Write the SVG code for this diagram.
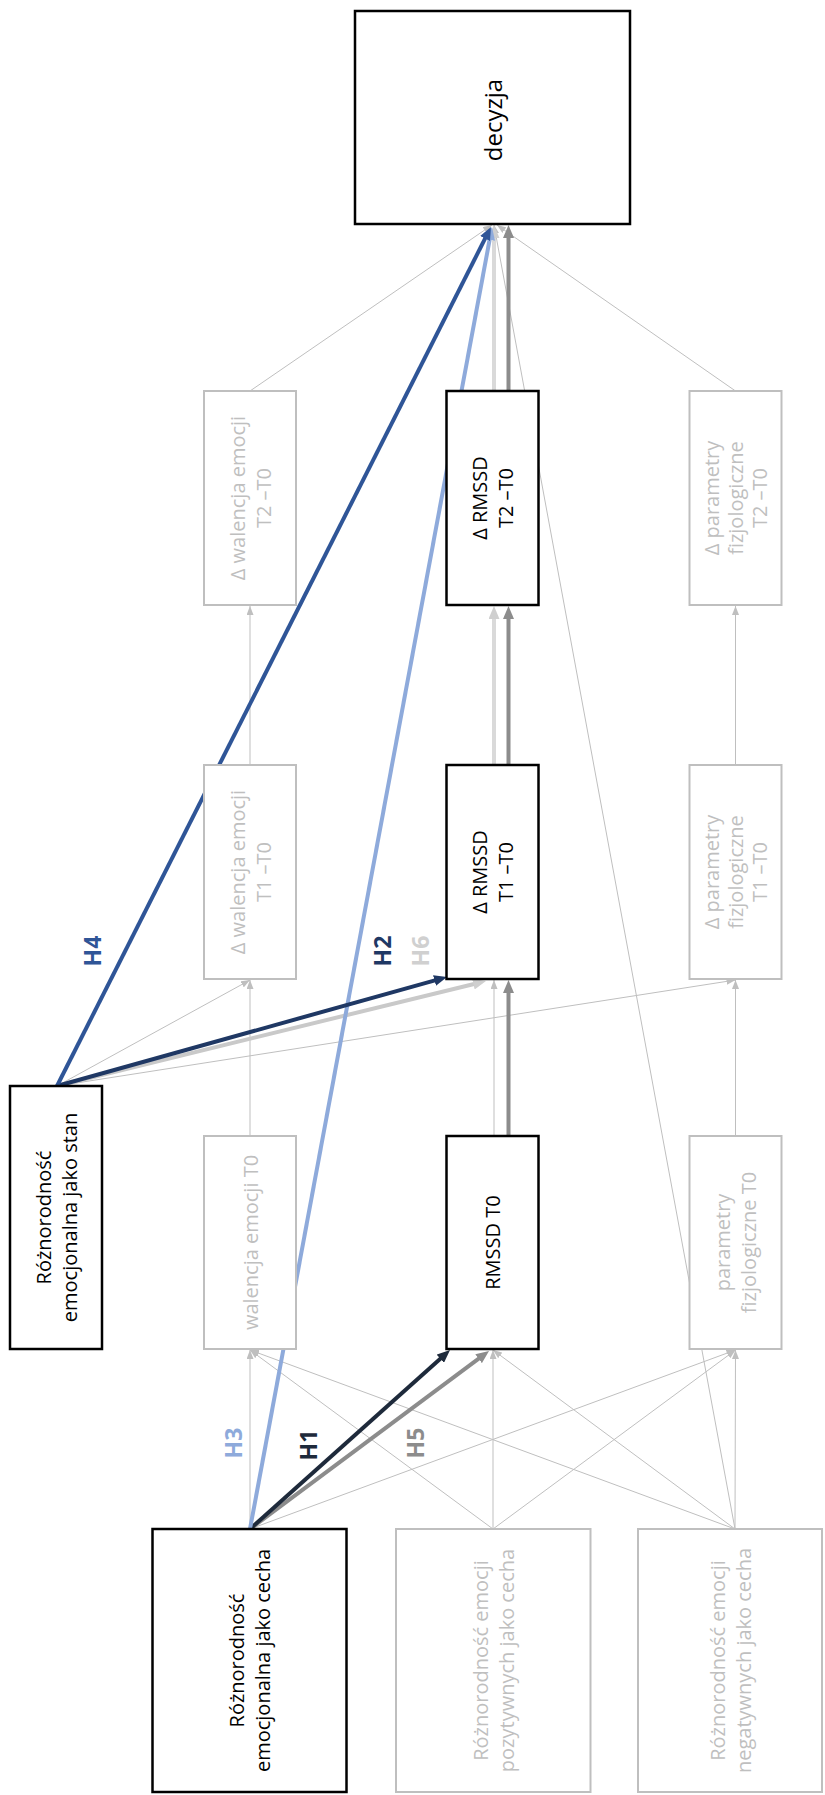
<svg xmlns="http://www.w3.org/2000/svg" width="825" height="1795" viewBox="0 0 825 1795">
<style>
.bon{fill:#fff;stroke:#000;stroke-width:2.5}
.boff{fill:#fff;stroke:#bfbfbf;stroke-width:2}
.t{font-family:"Open Sans","Noto Sans","DejaVu Sans",sans-serif;font-size:20px;text-anchor:middle;dominant-baseline:central}
.big{font-size:24px}
.on{fill:#000}
.off{fill:#bfbfbf}
.lbl{font-family:"Open Sans","Noto Sans","DejaVu Sans",sans-serif;font-size:23px;font-weight:bold;text-anchor:middle;dominant-baseline:central}
.thin{stroke:#bfbfbf;stroke-width:1;fill:none;marker-end:url(#aThin)}
.thick{fill:none;stroke-width:4}
</style>
<defs>
<marker id="aThin" markerUnits="userSpaceOnUse" markerWidth="9" markerHeight="7" refX="9" refY="3.5" orient="auto"><path d="M0,0 L9,3.5 L0,7 z" fill="#bfbfbf"/></marker>
<marker id="aNavy" markerUnits="userSpaceOnUse" markerWidth="13" markerHeight="11" refX="6" refY="5.5" orient="auto"><path d="M0,0 L13,5.5 L0,11 z" fill="#1e2a3b"/></marker>
<marker id="aGray" markerUnits="userSpaceOnUse" markerWidth="13" markerHeight="11" refX="6" refY="5.5" orient="auto"><path d="M0,0 L13,5.5 L0,11 z" fill="#8c8c8c"/></marker>
<marker id="aLBlue" markerUnits="userSpaceOnUse" markerWidth="13" markerHeight="11" refX="6" refY="5.5" orient="auto"><path d="M0,0 L13,5.5 L0,11 z" fill="#8eaadb"/></marker>
<marker id="aBlue" markerUnits="userSpaceOnUse" markerWidth="13" markerHeight="11" refX="6" refY="5.5" orient="auto"><path d="M0,0 L13,5.5 L0,11 z" fill="#2f5597"/></marker>
<marker id="aNavy2" markerUnits="userSpaceOnUse" markerWidth="13" markerHeight="11" refX="6" refY="5.5" orient="auto"><path d="M0,0 L13,5.5 L0,11 z" fill="#1f3864"/></marker>
<marker id="aLGray" markerUnits="userSpaceOnUse" markerWidth="13" markerHeight="11" refX="6" refY="5.5" orient="auto"><path d="M0,0 L13,5.5 L0,11 z" fill="#cfcfcf"/></marker>
</defs>
<rect width="825" height="1795" fill="#fff"/>

<g id="connectors">
<line class="thin" x1="250" y1="1529" x2="250" y2="1350"/>
<line class="thin" x1="250" y1="1529" x2="735.5" y2="1350"/>
<line class="thin" x1="493" y1="1529" x2="250" y2="1350"/>
<line class="thin" x1="493" y1="1529" x2="493" y2="1350"/>
<line class="thin" x1="493" y1="1529" x2="735.5" y2="1350"/>
<line class="thin" x1="735" y1="1529" x2="250" y2="1350"/>
<line class="thin" x1="735" y1="1529" x2="493" y2="1350"/>
<line class="thin" x1="735" y1="1529" x2="735.5" y2="1350"/>
<line class="thin" x1="735" y1="1529" x2="494" y2="225"/>
<line class="thin" x1="57" y1="1086" x2="250" y2="980"/>
<line class="thin" x1="57" y1="1086" x2="735.5" y2="980"/>
<line class="thin" x1="250" y1="1136" x2="250" y2="980"/>
<line class="thin" x1="250" y1="765" x2="250" y2="606"/>
<line class="thin" x1="735.5" y1="1136" x2="735.5" y2="980"/>
<line class="thin" x1="735.5" y1="765" x2="735.5" y2="606"/>
<line class="thin" x1="494" y1="1136" x2="494" y2="980"/>
<line class="thin" x1="250" y1="391" x2="492" y2="225"/>
<line class="thin" x1="735.5" y1="391" x2="497" y2="225"/>
<line class="thick" stroke="#d9d9d9" x1="494" y1="765" x2="494" y2="613" marker-end="url(#aLGray)"/>
<line class="thick" stroke="#d9d9d9" x1="494" y1="391" x2="494" y2="232" marker-end="url(#aLGray)"/>
<line class="thick" stroke="#8c8c8c" x1="508.5" y1="1136" x2="508.5" y2="987" marker-end="url(#aGray)"/>
<line class="thick" stroke="#8c8c8c" x1="508.5" y1="765" x2="508.5" y2="613" marker-end="url(#aGray)"/>
<line class="thick" stroke="#8c8c8c" x1="508.5" y1="391" x2="508.5" y2="232" marker-end="url(#aGray)"/>
<line class="thick" stroke="#c9c9c9" x1="57" y1="1086" x2="479.2" y2="982.7" marker-end="url(#aLGray)"/>
<line class="thick" stroke="#8c8c8c" x1="250" y1="1529" x2="483.4" y2="1355.2" marker-end="url(#aGray)"/>
<line class="thick" stroke="#1e2a3b" x1="250" y1="1529" x2="444.8" y2="1354.7" marker-end="url(#aNavy)"/>
<line class="thick" stroke="#8eaadb" stroke-width="3.5" x1="250" y1="1529" x2="490.7" y2="233.9" marker-end="url(#aLBlue)"/>
<line class="thick" stroke="#1f3864" x1="57" y1="1086" x2="440.3" y2="978.9" marker-end="url(#aNavy2)"/>
<line class="thick" stroke="#2f5597" x1="57" y1="1086" x2="487.8" y2="233.2" marker-end="url(#aBlue)"/>
</g>

<g id="labels">
<text class="lbl" fill="#8eaadb" transform="translate(233,1443) rotate(-90)">H3</text>
<text class="lbl" fill="#1e2a3b" transform="translate(308,1445) rotate(-90)">H1</text>
<text class="lbl" fill="#8c8c8c" transform="translate(415,1443) rotate(-90)">H5</text>
<text class="lbl" fill="#2f5597" transform="translate(92,951) rotate(-90)">H4</text>
<text class="lbl" fill="#1f3864" transform="translate(382,951) rotate(-90)">H2</text>
<text class="lbl" fill="#d0d0d0" transform="translate(420,951) rotate(-90)">H6</text>
</g>

<g id="decyzja">
<rect class="bon" x="355" y="11" width="275" height="213"/>
<text class="t big on" transform="translate(492,120) rotate(-90)">decyzja</text>
</g>

<g id="walencja-t2">
<rect class="boff" x="204" y="391" width="92" height="214"/>
<text class="t off" transform="translate(237,498) rotate(-90)">Δ walencja emocji</text>
<text class="t off" transform="translate(263,498) rotate(-90)">T2 –T0</text>
</g>
<g id="rmssd-t2">
<rect class="bon" x="446.5" y="391" width="92" height="214"/>
<text class="t on" transform="translate(479.5,498) rotate(-90)">Δ RMSSD</text>
<text class="t on" transform="translate(505.5,498) rotate(-90)">T2 –T0</text>
</g>
<g id="param-t2">
<rect class="boff" x="689.5" y="391" width="92" height="214"/>
<text class="t off" transform="translate(711.5,498) rotate(-90)">Δ parametry</text>
<text class="t off" transform="translate(735.5,498) rotate(-90)">fizjologiczne</text>
<text class="t off" transform="translate(759.5,498) rotate(-90)">T2 –T0</text>
</g>

<g id="walencja-t1">
<rect class="boff" x="204" y="765" width="92" height="214"/>
<text class="t off" transform="translate(237,872) rotate(-90)">Δ walencja emocji</text>
<text class="t off" transform="translate(263,872) rotate(-90)">T1 –T0</text>
</g>
<g id="rmssd-t1">
<rect class="bon" x="446.5" y="765" width="92" height="214"/>
<text class="t on" transform="translate(479.5,872) rotate(-90)">Δ RMSSD</text>
<text class="t on" transform="translate(505.5,872) rotate(-90)">T1 –T0</text>
</g>
<g id="param-t1">
<rect class="boff" x="689.5" y="765" width="92" height="214"/>
<text class="t off" transform="translate(711.5,872) rotate(-90)">Δ parametry</text>
<text class="t off" transform="translate(735.5,872) rotate(-90)">fizjologiczne</text>
<text class="t off" transform="translate(759.5,872) rotate(-90)">T1 –T0</text>
</g>

<g id="stan">
<rect class="bon" x="10" y="1086" width="92" height="263"/>
<text class="t on" transform="translate(43,1217.5) rotate(-90)">Różnorodność</text>
<text class="t on" transform="translate(69,1217.5) rotate(-90)">emocjonalna jako stan</text>
</g>

<g id="walencja-t0">
<rect class="boff" x="204" y="1136" width="92" height="213"/>
<text class="t off" transform="translate(250,1242.5) rotate(-90)">walencja emocji T0</text>
</g>
<g id="rmssd-t0">
<rect class="bon" x="446.5" y="1136" width="92" height="213"/>
<text class="t on" transform="translate(492.5,1242.5) rotate(-90)">RMSSD T0</text>
</g>
<g id="param-t0">
<rect class="boff" x="689.5" y="1136" width="92" height="213"/>
<text class="t off" transform="translate(722.5,1242.5) rotate(-90)">parametry</text>
<text class="t off" transform="translate(748.5,1242.5) rotate(-90)">fizjologiczne T0</text>
</g>

<g id="cecha">
<rect class="bon" x="152.5" y="1529" width="194" height="263"/>
<text class="t on" transform="translate(236.5,1660.5) rotate(-90)">Różnorodność</text>
<text class="t on" transform="translate(262.5,1660.5) rotate(-90)">emocjonalna jako cecha</text>
</g>
<g id="pozytywne">
<rect class="boff" x="396" y="1529" width="194.5" height="263"/>
<text class="t off" transform="translate(480,1660.5) rotate(-90)">Różnorodność emocji</text>
<text class="t off" transform="translate(506,1660.5) rotate(-90)">pozytywnych jako cecha</text>
</g>
<g id="negatywne">
<rect class="boff" x="638" y="1529" width="184" height="263"/>
<text class="t off" transform="translate(717,1660.5) rotate(-90)">Różnorodność emocji</text>
<text class="t off" transform="translate(743,1660.5) rotate(-90)">negatywnych jako cecha</text>
</g>
</svg>
